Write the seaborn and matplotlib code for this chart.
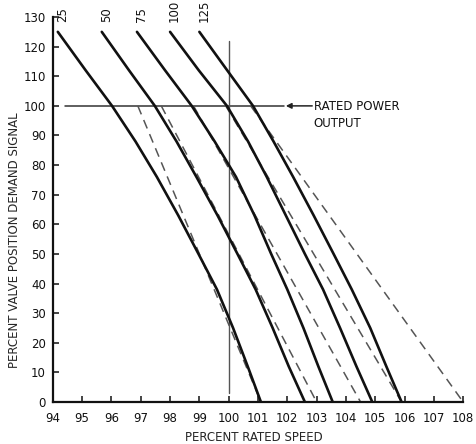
import numpy as np
import pandas as pd
import seaborn as sns
import matplotlib.pyplot as plt

signal = [125, 112, 100, 88, 76, 63, 50, 38, 25, 12, 0]

# percent rated speed of each solid curve at those signal levels
curve_names = ["25", "50", "75", "100", "125"]
speed_25 = [94.17, 95.12, 96.02, 96.82, 97.55, 98.28, 98.97, 99.60, 100.15, 100.65, 101.10]
speed_50 = [95.67, 96.60, 97.48, 98.22, 98.90, 99.62, 100.30, 100.92, 101.50, 102.05, 102.60]
speed_75 = [96.87, 97.83, 98.74, 99.52, 100.25, 100.88, 101.45, 102.00, 102.55, 103.06, 103.55]
speed_100 = [98.00, 98.98, 99.94, 100.66, 101.30, 101.95, 102.60, 103.22, 103.80, 104.36, 104.90]
speed_125 = [99.00, 99.95, 100.83, 101.53, 102.20, 102.90, 103.58, 104.20, 104.83, 105.38, 105.90]

# straight dashed lines: speed at 100 % signal and at 0 % signal
dash_signal = [100, 0]
dash_start = [96.9, 97.7, 98.8, 99.9, 100.75]
dash_end = [101.1, 103.0, 104.5, 105.9, 108.0]

x_ticks = list(range(94, 109))
y_ticks = list(range(0, 131, 10))

sns.set_style("ticks")
plt.rcParams["font.family"] = ["DejaVu Sans"]

rows = []
speeds = [speed_25, speed_50, speed_75, speed_100, speed_125]
for name, sp in zip(curve_names, speeds):
    for s, v in zip(sp, signal):
        rows.append({"curve": name, "speed": s, "signal": v})
df = pd.DataFrame(rows)

drows = []
for i, (a, b) in enumerate(zip(dash_start, dash_end)):
    for s, v in zip([a, b], dash_signal):
        drows.append({"line": str(i), "speed": s, "signal": v})
df_dash = pd.DataFrame(drows)

fig = plt.figure(figsize=(4.76, 4.44), dpi=100)
ax = fig.add_axes([0.111, 0.0946, 0.862, 0.867])

# reference lines: rated power (100 %) and rated speed (100 %)
ax.plot([94.4, 101.9], [100, 100], color="#333333", lw=1.1, zorder=1)
ax.plot([100, 100], [3, 122], color="#555555", lw=1.0, zorder=1)

sns.lineplot(data=df_dash, x="speed", y="signal", units="line", estimator=None,
             sort=False, color="#555555", lw=1.1, dashes=False, ax=ax, legend=False)
for l in ax.lines[2:]:
    l.set_dashes((6, 4))

sns.lineplot(data=df, x="speed", y="signal", hue="curve", palette=["#111111"] * 5,
             estimator=None, sort=False, lw=1.9, ax=ax, legend=False)
for l in ax.lines[7:]:
    l.set_solid_joinstyle("round")

for name, sp in zip(curve_names, speeds):
    ax.text(sp[0] + 0.15, 128.3, name, rotation=90, ha="center", va="bottom",
            fontsize=8.5, color="#111111")

ax.annotate("", xy=(101.95, 100), xytext=(102.85, 100),
            arrowprops=dict(arrowstyle="-|>", color="#222222", lw=1.1,
                            mutation_scale=8, shrinkA=0, shrinkB=0))
ax.text(102.9, 101.9, "RATED POWER\nOUTPUT", ha="left", va="top", fontsize=8.5,
        linespacing=1.35, color="#111111")

ax.set_xlim(94, 108)
ax.set_ylim(0, 130)
ax.set_xticks(x_ticks)
ax.set_yticks(y_ticks)
ax.tick_params(axis="both", direction="in", length=4, width=1.1, labelsize=8.5,
               colors="#111111")
ax.tick_params(axis="x", pad=7)
ax.tick_params(axis="y", pad=5)
ax.set_xlabel("PERCENT RATED SPEED", fontsize=8.5)
ax.set_ylabel("PERCENT VALVE POSITION DEMAND SIGNAL", fontsize=8.5)
ax.xaxis.set_label_coords(0.49, -0.075)
ax.yaxis.set_label_coords(-0.078, 0.42)
sns.despine(ax=ax)
for s in ["left", "bottom"]:
    ax.spines[s].set_linewidth(1.6)
    ax.spines[s].set_color("#111111")

fig.savefig("out.png", dpi=100)
